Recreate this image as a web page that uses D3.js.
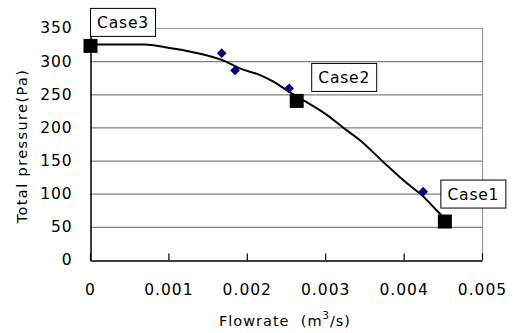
<!DOCTYPE html>
<html><head><meta charset="utf-8">
<script src="https://cdn.jsdelivr.net/npm/d3@7"></script>
<style>body{margin:0;background:#fff}svg{display:block}text{font-family:"DejaVu Sans",sans-serif;}</style>
</head><body>
<script>
const caseNames = ["Case1","Case2","Case3"];
const caseFlow = [0.00452, 0.00263, 0.0];
const casePressure = [58, 240, 323];
const measFlow = [0.00168, 0.00185, 0.00254, 0.00425];
const measPressure = [312, 286, 259, 103];
const curveFlow = [0, 0.0007, 0.00096, 0.00121, 0.00172, 0.00191, 0.00217, 0.00234, 0.00251, 0.00268, 0.00302, 0.00327, 0.00344, 0.00374, 0.00404, 0.00425, 0.00442, 0.00452];
const curvePressure = [325, 325, 321, 316, 300, 289, 279, 269, 256, 244, 219, 196, 181, 148, 116, 96, 75, 63];
const xTicks = [0, 0.001, 0.002, 0.003, 0.004, 0.005];
const xTickLabels = ["0","0.001","0.002","0.003","0.004","0.005"];
const yTicks = [0,50,100,150,200,250,300,350];

const W=514,H=333;
const svg=d3.select("body").append("svg").attr("width",W).attr("height",H);
const L=90,R=482,T=28,B=260;
const x=d3.scaleLinear().domain([0,0.005]).range([L,R]);
const y=d3.scaleLinear().domain([0,350]).range([B,T]);

// gridlines
svg.append("g").selectAll("line").data(yTicks.filter(d=>d>0)).join("line")
  .attr("x1",L).attr("x2",R).attr("y1",d=>y(d)+0.5).attr("y2",d=>y(d)+0.5)
  .attr("stroke",d=>d===350?"#9a9a9a":"#808080").attr("stroke-width",1.2);
// right border
svg.append("line").attr("x1",R+0.5).attr("x2",R+0.5).attr("y1",T).attr("y2",B).attr("stroke","#9a9a9a").attr("stroke-width",1.2);

// y axis
const ya=svg.append("g").attr("transform",`translate(${L+0.5},0)`)
  .call(d3.axisLeft(y).tickValues(yTicks).tickSize(0).tickPadding(18));
ya.select(".domain").attr("stroke","#000").attr("stroke-width",1.5);
ya.selectAll("text").attr("font-size",15.5).attr("fill","#000").attr("letter-spacing","0.9px");

// x axis
const xa=svg.append("g").attr("transform",`translate(0,${B+0.5})`)
  .call(d3.axisBottom(x).tickValues(xTicks).tickFormat((d,i)=>xTickLabels[i]).tickSize(-7).tickPadding(23).tickSizeOuter(0));
xa.select(".domain").attr("stroke","#000").attr("stroke-width",1.5);
xa.selectAll(".tick line").attr("stroke","#000").attr("stroke-width",1.2);
xa.selectAll("text").attr("font-size",15.5).attr("fill","#000").attr("letter-spacing","1px");

// curve
const pts=curveFlow.map((f,i)=>[f,curvePressure[i]]);
svg.append("path").datum(pts).attr("fill","none").attr("stroke","#000").attr("stroke-width",2)
  .attr("d",d3.line().x(d=>x(d[0])).y(d=>y(d[1])).curve(d3.curveMonotoneX));

// measured diamonds
svg.append("g").selectAll("path").data(measFlow).join("path")
  .attr("transform",(d,i)=>`translate(${x(d)},${y(measPressure[i])})`)
  .attr("d",d3.symbol(d3.symbolDiamond2,60)).attr("fill","#000080");

// case squares
svg.append("g").selectAll("rect").data(caseFlow).join("rect")
  .attr("x",d=>x(d)-6.5).attr("y",(d,i)=>y(casePressure[i])-7).attr("width",14).attr("height",14).attr("fill","#000");

// case labels
const offs=[[-4,-42],[15,-38],[0,-38]];
const lab=svg.append("g").selectAll("g").data(caseNames).join("g")
  .attr("transform",(d,i)=>`translate(${x(caseFlow[i])+offs[i][0]},${y(casePressure[i])+offs[i][1]})`);
lab.append("rect").attr("x",0.5).attr("y",0.5).attr("width",65).attr("height",28).attr("fill","#fff").attr("stroke","#000").attr("stroke-width",1);
lab.append("text").attr("x",33).attr("y",20).attr("text-anchor","middle").attr("font-size",15.5).attr("letter-spacing","0.8px").text(d=>d);

// axis titles
svg.append("text").attr("transform",`translate(27,146) rotate(-90)`).attr("text-anchor","middle")
  .attr("font-size",14.5).attr("letter-spacing","1.4px").text("Total pressure(Pa)");
const xt=svg.append("text").attr("x",285).attr("y",326).attr("text-anchor","middle").attr("font-size",14.5).attr("letter-spacing","1px");
xt.append("tspan").text("Flowrate\u00a0\u00a0(m");
xt.append("tspan").attr("dy",-7).attr("font-size",10).text("3");
xt.append("tspan").attr("dy",7).text("/s)");
</script>
</body></html>
